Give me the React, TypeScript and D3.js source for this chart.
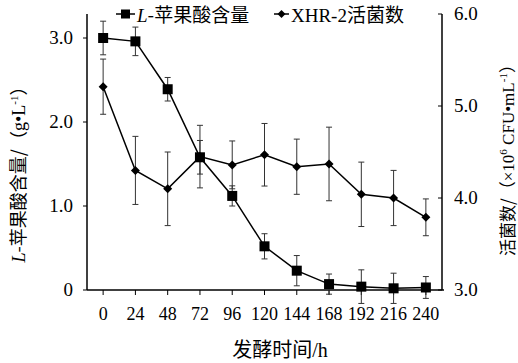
import React from "react";
import * as d3 from "d3";

const hours = [0, 24, 48, 72, 96, 120, 144, 168, 192, 216, 240];
const malicAcid = [3.0, 2.96, 2.39, 1.58, 1.12, 0.52, 0.23, 0.07, 0.04, 0.02, 0.03];
const malicErr = [0.2, 0.17, 0.14, 0.2, 0.12, 0.15, 0.18, 0.12, 0.2, 0.18, 0.13];
const viable = [5.21, 4.3, 4.1, 4.45, 4.36, 4.47, 4.34, 4.37, 4.04, 4.0, 3.79];
const viableErr = [0.3, 0.37, 0.4, 0.34, 0.26, 0.34, 0.3, 0.4, 0.35, 0.3, 0.2];
const leftTicks = [0, 1, 2, 3];
const leftTickLabels = ["0", "1.0", "2.0", "3.0"];
const rightTicks = [3, 4, 5, 6];
const rightTickLabels = ["3.0", "4.0", "5.0", "6.0"];

const W = 518;
const H = 363;
const SERIF = "Liberation Serif, Times New Roman, Times, DejaVu Serif, serif";
const CJK = "Noto Sans CJK SC, Liberation Serif, serif";

export default function App() {
  const x = d3.scaleLinear().domain([-12, 252]).range([87, 442]);
  const yL = d3.scaleLinear().domain([0, 3]).range([290, 38]);
  const yR = d3.scaleLinear().domain([3, 6]).range([290, 14]);
  const top = 14;
  const bottom = 290;

  const lineL = d3
    .line<number>()
    .x((_, i) => x(hours[i]))
    .y((d) => yL(d));
  const lineR = d3
    .line<number>()
    .x((_, i) => x(hours[i]))
    .y((d) => yR(d));

  const cap = 3;
  const errColor = "#333";
  const serif = { fontFamily: SERIF };
  const cjk = { fontFamily: CJK };

  const diamond = (cx: number, cy: number, r: number) =>
    `M${cx},${cy - r}L${cx + r},${cy}L${cx},${cy + r}L${cx - r},${cy}Z`;

  return (
    <svg
      width={W}
      height={H}
      style={{ position: "absolute", left: 0, top: 0, background: "#fff", fontFamily: SERIF }}
    >
      <rect x={0} y={0} width={W} height={H} fill="#fff" />
      {/* axes */}
      <line x1={x.range()[0]} x2={x.range()[1] + 2} y1={bottom} y2={bottom} stroke="#000" strokeWidth={1.5} />
      <line x1={x.range()[0]} x2={x.range()[0]} y1={top} y2={bottom} stroke="#000" strokeWidth={1.5} />
      <line x1={x.range()[1]} x2={x.range()[1]} y1={top} y2={bottom} stroke="#000" strokeWidth={1.5} />

      {/* x ticks */}
      {hours.map((h) => (
        <g key={"xt" + h}>
          <line x1={x(h)} x2={x(h)} y1={bottom} y2={bottom + 5} stroke="#000" strokeWidth={1} />
          <text x={x(h)} y={320} fontSize={18} textAnchor="middle" style={serif}>
            {h}
          </text>
        </g>
      ))}

      {/* left ticks */}
      {leftTicks.map((t, i) => (
        <g key={"lt" + t}>
          <line x1={x.range()[0] - 4} x2={x.range()[0]} y1={yL(t)} y2={yL(t)} stroke="#000" strokeWidth={1} />
          <text x={73} y={yL(t) + 6} fontSize={19} textAnchor="end" style={serif}>
            {leftTickLabels[i]}
          </text>
        </g>
      ))}

      {/* right ticks */}
      {rightTicks.map((t, i) => (
        <g key={"rt" + t}>
          <line x1={x.range()[1] - 4} x2={x.range()[1]} y1={yR(t)} y2={yR(t)} stroke="#000" strokeWidth={1} />
          <text x={454} y={yR(t) + 6} fontSize={19} textAnchor="start" style={serif}>
            {rightTickLabels[i]}
          </text>
        </g>
      ))}

      {/* error bars viable */}
      {viable.map((v, i) => {
        const cx = x(hours[i]);
        const y1 = yR(v + viableErr[i]);
        const y2 = yR(v - viableErr[i]);
        return (
          <g key={"ev" + i} stroke={errColor} strokeWidth={1}>
            <line x1={cx} x2={cx} y1={y1} y2={y2} />
            <line x1={cx - cap} x2={cx + cap} y1={y1} y2={y1} />
            <line x1={cx - cap} x2={cx + cap} y1={y2} y2={y2} />
          </g>
        );
      })}
      {/* error bars malic */}
      {malicAcid.map((v, i) => {
        const cx = x(hours[i]);
        const y1 = yL(v + malicErr[i]);
        const y2 = yL(v - malicErr[i]);
        return (
          <g key={"em" + i} stroke={errColor} strokeWidth={1}>
            <line x1={cx} x2={cx} y1={y1} y2={y2} />
            <line x1={cx - cap} x2={cx + cap} y1={y1} y2={y1} />
            <line x1={cx - cap} x2={cx + cap} y1={y2} y2={y2} />
          </g>
        );
      })}

      {/* lines */}
      <path d={lineR(viable) || ""} fill="none" stroke="#000" strokeWidth={1.5} />
      <path d={lineL(malicAcid) || ""} fill="none" stroke="#000" strokeWidth={1.5} />

      {/* markers */}
      {viable.map((v, i) => (
        <path key={"dv" + i} d={diamond(x(hours[i]), yR(v), 4.5)} fill="#000" />
      ))}
      {malicAcid.map((v, i) => (
        <rect key={"sm" + i} x={x(hours[i]) - 5} y={yL(v) - 5} width={10} height={10} fill="#000" />
      ))}

      {/* legend */}
      <line x1={116} x2={135} y1={14} y2={14} stroke="#000" strokeWidth={1.5} />
      <rect x={121} y={9.5} width={9} height={9} fill="#000" />
      <text x={137} y={22} fontSize={19}>
        <tspan fontStyle="italic" style={serif}>L</tspan>
        <tspan style={cjk}>-苹果酸含量</tspan>
      </text>
      <line x1={274} x2={289} y1={14} y2={14} stroke="#000" strokeWidth={1.5} />
      <path d={diamond(281.5, 14, 4)} fill="#000" />
      <text x={291} y={22} fontSize={19}>
        <tspan style={serif}>XHR-2</tspan>
        <tspan style={cjk}>活菌数</tspan>
      </text>

      {/* x axis title */}
      <text x={280} y={357} fontSize={20} textAnchor="middle">
        <tspan style={cjk}>发酵时间</tspan>
        <tspan style={serif}>/h</tspan>
      </text>

      {/* left y title */}
      <text transform="translate(25,170) rotate(-90)" fontSize={18} textAnchor="middle">
        <tspan fontStyle="italic" style={serif}>L</tspan>
        <tspan style={cjk}>-苹果酸含量/（</tspan>
        <tspan style={serif}>g•L</tspan>
        <tspan fontSize={11} dy={-7} style={serif}>-1</tspan>
        <tspan style={cjk} dy={7}>）</tspan>
      </text>

      {/* right y title */}
      <text transform="translate(514,156) rotate(-90)" fontSize={17} textAnchor="middle">
        <tspan style={cjk}>活菌数/（</tspan>
        <tspan style={serif}>×10</tspan>
        <tspan fontSize={11} dy={-7} style={serif}>6</tspan>
        <tspan dy={7} style={serif}> CFU•mL</tspan>
        <tspan fontSize={11} dy={-7} style={serif}>-1</tspan>
        <tspan style={cjk} dy={7}>）</tspan>
      </text>
    </svg>
  );
}
